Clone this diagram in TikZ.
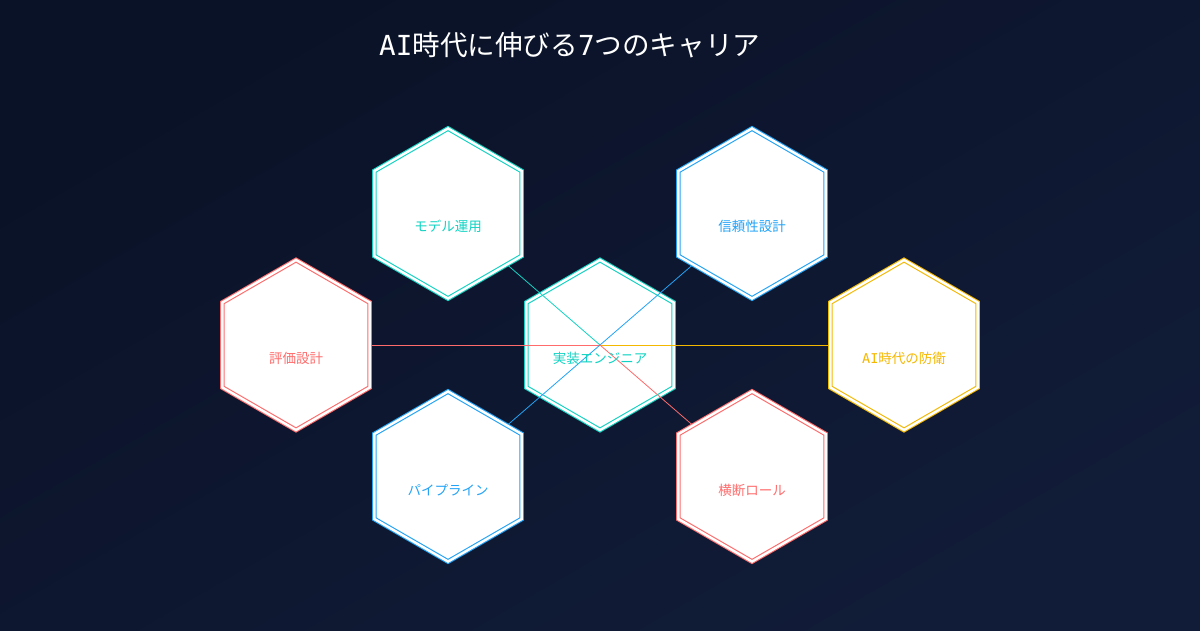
\documentclass[tikz,border=0pt]{standalone}
\usepackage{fontspec}
\setmainfont{DejaVu Sans Mono}
\newfontfamily\lat{DejaVu Sans Mono}
\newfontfamily\cjk{Noto Sans CJK JP}
\definecolor{bgA}{HTML}{0A1227}
\definecolor{bgB}{HTML}{111C38}
\definecolor{cteal}{HTML}{12D3C3}
\definecolor{cblue}{HTML}{22A3F7}
\definecolor{cred}{HTML}{FF6B6B}
\definecolor{cyel}{HTML}{F5B800}
\tikzset{
  hexo/.style={draw=#1, line width=1.1pt, double=white, double distance=2.5pt, fill=white},
  link/.style={draw=#1, line width=0.8pt},
  lbl/.style={text=#1, font=\cjk\fontsize{13.5}{16}\selectfont, inner sep=0pt},
}
\newcommand\hexpath[1]{(#1) ++(90:85) -- ++(210:85) -- ++(270:85) -- ++(330:85) -- ++(30:85) -- ++(90:85) -- cycle}
\begin{document}
\begin{tikzpicture}[x=1pt,y=-1pt]
\useasboundingbox (0,0) rectangle (1200,630);
\shade[top color=bgA, bottom color=bgB, shading angle=30] (0,0) rectangle (1200,630);
% centres
\coordinate (hc) at (600,345);
\coordinate (hm) at (448,213.5);
\coordinate (hr) at (752,213.5);
\coordinate (hl) at (296,345);
\coordinate (hy) at (904,345);
\coordinate (hp) at (448,476.5);
\coordinate (hx) at (752,476.5);
% title
\node[anchor=west, text=white, inner sep=0pt, font=\fontsize{27.6}{32}\selectfont] (title) at (379,45) {AI{\cjk 時代に伸びる}7{\cjk つのキャリア}};
% centre hexagon
\draw[hexo=cteal] \hexpath{hc};
% connectors
\draw[link=cteal] (hc) -- (hm);
\draw[link=cblue] (hc) -- (hr);
\draw[link=cred] (hc) -- (hl);
\draw[link=cyel] (hc) -- (hy);
\draw[link=cblue] (hc) -- (hp);
\draw[link=cred] (hc) -- (hx);
% outer hexagons
\draw[hexo=cteal] \hexpath{hm};
\draw[hexo=cblue] \hexpath{hr};
\draw[hexo=cred] \hexpath{hl};
\draw[hexo=cyel] \hexpath{hy};
\draw[hexo=cblue] \hexpath{hp};
\draw[hexo=cred] \hexpath{hx};
% labels
\node[lbl=cteal] (tc) at (600,358) {実装エンジニア};
\node[lbl=cteal] (tm) at (448,226.5) {モデル運用};
\node[lbl=cblue] (tr) at (752,226.5) {信頼性設計};
\node[lbl=cred] (tl) at (296,358) {評価設計};
\node[lbl=cyel] (ty) at (904,358) {{\lat AI}時代の防衛};
\node[lbl=cblue] (tp) at (448,490) {パイプライン};
\node[lbl=cred] (tx) at (752,490) {横断ロール};
\end{tikzpicture}
\end{document}
